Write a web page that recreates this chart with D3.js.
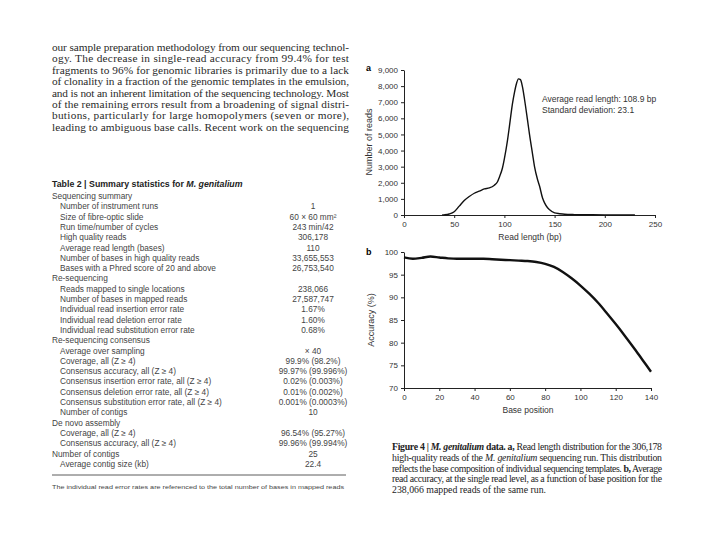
<!DOCTYPE html>
<html>
<head>
<meta charset="utf-8">
<script src="https://cdn.jsdelivr.net/npm/d3@7"></script>
<style>
  body { margin: 0; background: #fff; }
  svg { display: block; }
</style>
</head>
<body>
<div id="page"></div>
<script>
// Figure 4a: read length distribution
const readLength = [38, 40, 45, 50, 55, 60, 65, 70, 75, 80, 85, 90, 93, 95, 98, 100, 103, 105, 108, 110, 112, 114, 116, 118, 120, 123, 125, 128, 130, 133, 135, 138, 140, 143, 145, 150, 155, 160, 170, 180, 200, 230];
const readCount = [0, 10, 60, 200, 550, 900, 1150, 1350, 1480, 1620, 1680, 1850, 2050, 2350, 2900, 3500, 4600, 5500, 6900, 7600, 8150, 8450, 8400, 7950, 7200, 5900, 5000, 3800, 3000, 2200, 1800, 1050, 750, 450, 330, 130, 80, 45, 25, 15, 8, 3];
const readTicksY = [0, 1000, 2000, 3000, 4000, 5000, 6000, 7000, 8000, 9000];
const readTicksX = [0, 50, 100, 150, 200, 250];

// Figure 4b: accuracy by base position
const basePos = [0, 5, 10, 15, 20, 25, 30, 35, 40, 45, 50, 55, 60, 65, 70, 75, 80, 85, 90, 95, 100, 105, 110, 115, 120, 125, 130, 135, 140];
const accuracy = [98.8, 98.5, 98.7, 99.0, 98.8, 98.6, 98.5, 98.5, 98.5, 98.5, 98.4, 98.3, 98.2, 98.1, 98.0, 97.8, 97.4, 96.7, 95.6, 94.2, 92.6, 90.8, 88.8, 86.5, 84.1, 81.6, 79.0, 76.3, 73.6];
const accTicksY = [70, 75, 80, 85, 90, 95, 100];
const accTicksX = [0, 20, 40, 60, 80, 100, 120, 140];

// Text of the page
const paragraph = [
  "our sample preparation methodology from our sequencing technol-",
  "ogy. The decrease in single-read accuracy from 99.4% for test",
  "fragments to 96% for genomic libraries is primarily due to a lack",
  "of clonality in a fraction of the genomic templates in the emulsion,",
  "and is not an inherent limitation of the sequencing technology. Most",
  "of the remaining errors result from a broadening of signal distri-",
  "butions, particularly for large homopolymers (seven or more),",
  "leading to ambiguous base calls. Recent work on the sequencing"
];

// [label, value, indent]  (indent 0 = section header)
const tableRows = [
  ["Sequencing summary", "", 0],
  ["Number of instrument runs", "1", 1],
  ["Size of fibre-optic slide", "60 × 60 mm²", 1],
  ["Run time/number of cycles", "243 min/42", 1],
  ["High quality reads", "306,178", 1],
  ["Average read length (bases)", "110", 1],
  ["Number of bases in high quality reads", "33,655,553", 1],
  ["Bases with a Phred score of 20 and above", "26,753,540", 1],
  ["Re-sequencing", "", 0],
  ["Reads mapped to single locations", "238,066", 1],
  ["Number of bases in mapped reads", "27,587,747", 1],
  ["Individual read insertion error rate", "1.67%", 1],
  ["Individual read deletion error rate", "1.60%", 1],
  ["Individual read substitution error rate", "0.68%", 1],
  ["Re-sequencing consensus", "", 0],
  ["Average over sampling", "× 40", 1],
  ["Coverage, all (Z ≥ 4)", "99.9% (98.2%)", 1],
  ["Consensus accuracy, all (Z ≥ 4)", "99.97% (99.996%)", 1],
  ["Consensus insertion error rate, all (Z ≥ 4)", "0.02% (0.003%)", 1],
  ["Consensus deletion error rate, all (Z ≥ 4)", "0.01% (0.002%)", 1],
  ["Consensus substitution error rate, all (Z ≥ 4)", "0.001% (0.0003%)", 1],
  ["Number of contigs", "10", 1],
  ["De novo assembly", "", 0],
  ["Coverage, all (Z ≥ 4)", "96.54% (95.27%)", 1],
  ["Consensus accuracy, all (Z ≥ 4)", "99.96% (99.994%)", 1],
  ["Number of contigs", "25", 0],
  ["Average contig size (kb)", "22.4", 1]
];

const svg = d3.select("#page").append("svg")
  .attr("width", 720).attr("height", 540);
svg.append("rect").attr("width", 720).attr("height", 540).attr("fill", "#fff");

const serif = "'Liberation Serif', 'DejaVu Serif', serif";
const sans = "'Liberation Sans', Arial, sans-serif";

// ---- left column: paragraph ----
paragraph.forEach((line, i) => {
  svg.append("text")
    .attr("x", 52).attr("y", 51 + i * 11.4)
    .attr("textLength", 297).attr("lengthAdjust", "spacing")
    .style("font-family", serif).style("font-size", "11.3px")
    .attr("fill", "#2a2a2a")
    .text(line);
});

// ---- table ----
const title = svg.append("text")
  .attr("x", 52).attr("y", 187)
  .style("font-family", sans).style("font-size", "8.8px")
  .style("font-weight", "bold").attr("fill", "#222");
title.append("tspan").text("Table 2 | Summary statistics for ");
title.append("tspan").style("font-style", "italic").text("M. genitalium");

tableRows.forEach((r, i) => {
  const y = 199 + i * 10.3;
  svg.append("text")
    .attr("x", r[2] ? 60 : 52).attr("y", y)
    .style("font-family", sans).style("font-size", "8.3px")
    .attr("fill", "#444")
    .text(r[0]);
  if (r[1]) {
    svg.append("text")
      .attr("x", 313).attr("y", y)
      .attr("text-anchor", "middle")
      .style("font-family", sans).style("font-size", "8.3px")
      .attr("fill", "#444")
      .text(r[1]);
  }
});

svg.append("line")
  .attr("x1", 52).attr("x2", 346).attr("y1", 475).attr("y2", 475)
  .attr("stroke", "#333").attr("stroke-width", 0.8);
svg.append("text")
  .attr("x", 52).attr("y", 489)
  .attr("textLength", 292).attr("lengthAdjust", "spacingAndGlyphs")
  .style("font-family", sans).style("font-size", "6px")
  .attr("fill", "#444")
  .text("The individual read error rates are referenced to the total number of bases in mapped reads");

// ---- chart helpers ----
function styleAxis(g) {
  g.selectAll("text").style("font-family", sans).style("font-size", "8px").attr("fill", "#333");
  g.selectAll("path, line").attr("stroke", "#222");
}

// ---- Figure 4a ----
const xa = d3.scaleLinear().domain([0, 250]).range([404, 655]);
const ya = d3.scaleLinear().domain([0, 9000]).range([215, 70]);

svg.append("g").attr("transform", "translate(0,215)")
  .call(d3.axisBottom(xa).tickValues(readTicksX).tickSize(3).tickSizeOuter(0).tickFormat(d3.format("d")))
  .call(styleAxis);
svg.append("g").attr("transform", "translate(404,0)")
  .call(d3.axisLeft(ya).tickValues(readTicksY).tickSize(3).tickSizeOuter(0).tickFormat(d3.format(",")))
  .call(styleAxis);

svg.append("path")
  .datum(readLength.map((d, i) => [d, readCount[i]]))
  .attr("fill", "none").attr("stroke", "#111").attr("stroke-width", 1.4)
  .attr("d", d3.line().x(d => xa(d[0])).y(d => ya(d[1])).curve(d3.curveMonotoneX));

svg.append("text").attr("x", 366).attr("y", 71)
  .style("font-family", sans).style("font-size", "9px").style("font-weight", "bold").text("a");
svg.append("text")
  .attr("transform", "translate(372,142) rotate(-90)")
  .attr("text-anchor", "middle")
  .style("font-family", sans).style("font-size", "9px").attr("fill", "#333")
  .text("Number of reads");
svg.append("text").attr("x", 530).attr("y", 240).attr("text-anchor", "middle")
  .style("font-family", sans).style("font-size", "8.5px").attr("fill", "#333")
  .text("Read length (bp)");
svg.append("text").attr("x", 542).attr("y", 102)
  .style("font-family", sans).style("font-size", "8.5px").attr("fill", "#333")
  .text("Average read length: 108.9 bp");
svg.append("text").attr("x", 542).attr("y", 113)
  .style("font-family", sans).style("font-size", "8.5px").attr("fill", "#333")
  .text("Standard deviation: 23.1");

// ---- Figure 4b ----
const xb = d3.scaleLinear().domain([0, 140]).range([404, 651]);
const yb = d3.scaleLinear().domain([70, 100]).range([388, 252]);

svg.append("g").attr("transform", "translate(0,388)")
  .call(d3.axisBottom(xb).tickValues(accTicksX).tickSize(3).tickSizeOuter(0))
  .call(styleAxis);
svg.append("g").attr("transform", "translate(404,0)")
  .call(d3.axisLeft(yb).tickValues(accTicksY).tickSize(3).tickSizeOuter(0))
  .call(styleAxis);

svg.append("path")
  .datum(basePos.map((d, i) => [d, accuracy[i]]))
  .attr("fill", "none").attr("stroke", "#111").attr("stroke-width", 2.4)
  .attr("d", d3.line().x(d => xb(d[0])).y(d => yb(d[1])).curve(d3.curveMonotoneX));

svg.append("text").attr("x", 366).attr("y", 255)
  .style("font-family", sans).style("font-size", "9px").style("font-weight", "bold").text("b");
svg.append("text")
  .attr("transform", "translate(374,320) rotate(-90)")
  .attr("text-anchor", "middle")
  .style("font-family", sans).style("font-size", "9px").attr("fill", "#333")
  .text("Accuracy (%)");
svg.append("text").attr("x", 528).attr("y", 413).attr("text-anchor", "middle")
  .style("font-family", sans).style("font-size", "8.5px").attr("fill", "#333")
  .text("Base position");

// ---- caption ----
const caption = [
  [["Figure 4 | ", "b"], ["M. genitalium", "bi"], [" data.", "b"], ["  a,", "b"], [" Read length distribution for the 306,178", ""]],
  [["high-quality reads of the ", ""], ["M. genitalium", "i"], [" sequencing run. This distribution", ""]],
  [["reflects the base composition of individual sequencing templates. ", ""], ["b,", "b"], [" Average", ""]],
  [["read accuracy, at the single read level, as a function of base position for the", ""]],
  [["238,066 mapped reads of the same run.", ""]]
];
caption.forEach((parts, i) => {
  const t = svg.append("text")
    .attr("x", 392).attr("y", 450 + i * 10.8)
    .style("font-family", serif).style("font-size", "9.8px")
    .attr("fill", "#222");
  if (i < caption.length - 1) t.attr("textLength", 270).attr("lengthAdjust", "spacing");
  parts.forEach(p => {
    t.append("tspan")
      .style("font-weight", p[1].includes("b") ? "bold" : "normal")
      .style("font-style", p[1].includes("i") ? "italic" : "normal")
      .text(p[0]);
  });
});
</script>
</body>
</html>
